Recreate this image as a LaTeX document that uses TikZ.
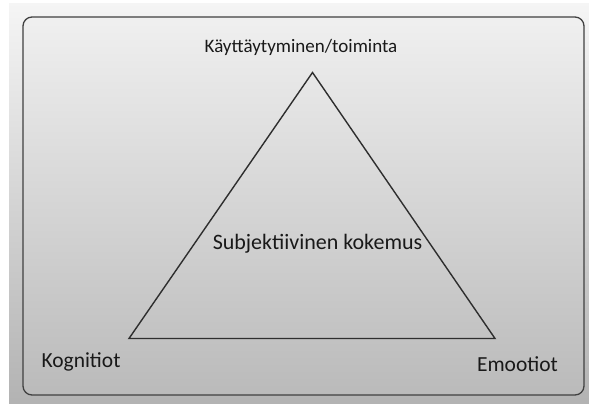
\documentclass[tikz,border=0pt]{standalone}
\usepackage{fontspec}
\setmainfont{Carlito}
\begin{document}
\begin{tikzpicture}[x=1pt,y=-1pt,
  label/.style={font=\fontsize{21.5}{24}\selectfont, text=black!90, inner sep=0pt},
  edge/.style={draw=black!82, line width=1.4pt, line join=miter}]
  % page and background
  \useasboundingbox (0,0) rectangle (589,404);
  \fill[white] (0,0) rectangle (589,404);
  \shade[top color=black!4, bottom color=black!30] (9,4) rectangle (589,404);
  % framed panel
  \shade[top color=black!6, bottom color=black!27, draw=black!75, line width=1.3pt, rounded corners=9pt]
    (23,17) rectangle (584,395);
  % triangle corners
  \coordinate (top) at (312.5,72.5);
  \coordinate (left) at (129,338.5);
  \coordinate (right) at (495,338.5);
  \draw[edge] (top) -- (right) -- (left) -- cycle;
  % labels
  \node[label, font=\fontsize{19}{22}\selectfont] (behaviour) at (301,47) {Käyttäytyminen/toiminta};
  \node[label, font=\fontsize{22}{25}\selectfont] (centre) at (317.5,244) {Subjektiivinen kokemus};
  \node[label] (cognition) at (81,362) {Kognitiot};
  \node[label] (emotion) at (517.5,364) {Emootiot};
\end{tikzpicture}
\end{document}
